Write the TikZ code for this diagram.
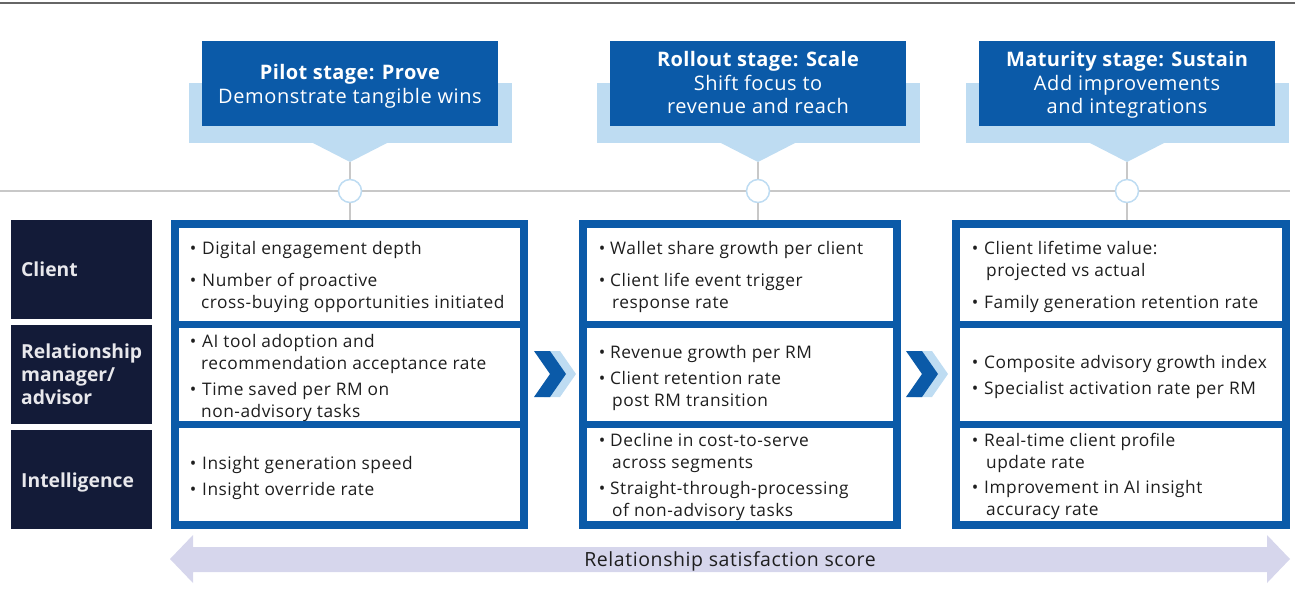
\documentclass[tikz,border=0pt]{standalone}
\usepackage{fontspec}
\setmainfont{Open Sans}
\definecolor{dblue}{HTML}{0B5AA8}
\definecolor{lblue}{HTML}{BEDCF2}
\definecolor{navy}{HTML}{131B38}
\definecolor{gline}{HTML}{C8C8C8}
\definecolor{topline}{HTML}{666666}
\definecolor{txtc}{HTML}{1E1E1E}
\definecolor{lav}{HTML}{D6D6EC}
\definecolor{lbl}{HTML}{E8E8EC}
\newcommand\bodyfont{\fontsize{17.3}{20}\selectfont\addfontfeature{LetterSpace=3}}
\tikzset{
  txt/.style={anchor=base west, inner sep=0pt, font=\bodyfont, text=txtc},
  bul/.style={anchor=base, inner sep=0pt, font=\bodyfont, text=txtc},
  hd/.style={anchor=base, inner sep=0pt, font=\fontsize{20}{24}\selectfont\addfontfeature{LetterSpace=3}, text=white},
  hdb/.style={hd, font=\fontsize{20}{24}\selectfont\bfseries\addfontfeature{LetterSpace=2}},
  lab/.style={anchor=base west, inner sep=0pt, font=\fontsize{19.3}{24}\selectfont\bfseries, text=lbl},
  circ/.style={circle, draw=lblue, line width=1.5pt, fill=white, minimum size=23pt, inner sep=0pt},
}
\newcommand\bl[5]{\node[bul] (#1b) at (#2,#4) {\textbullet}; \node[txt] (#1) at (#3,#4) {#5};}
\newcommand\cl[4]{\node[txt] (#1) at (#2,#3) {#4};}
\newcommand\stagehead[2]{%
  \fill[lblue] (#1-161.5,83) rectangle (#1+161.5,143);
  \fill[lblue] (#1-38,142.5) -- (#1+38,142.5) -- (#1,162) -- cycle;
  \fill[dblue] (#1-148,41) rectangle (#1+148,126);
  \coordinate (tip#2) at (#1,162);
  \coordinate (top#2) at (#1,220);
  \node[circ] (c#2) at (#1,191) {};
  \draw[gline, line width=1.5pt] (tip#2) -- (c#2);
  \draw[gline, line width=1.5pt] (c#2) -- (top#2);
}
\newcommand\chev[3]{%
  \fill[lblue] (#1-6,#2-23) -- (#1+10,#2-23) -- (#1+26,#2) -- (#1+10,#2+23) -- (#1-6,#2+23) -- (#1+10,#2) -- cycle;
  \fill[#3] (#1-16,#2-23) -- (#1,#2-23) -- (#1+16,#2) -- (#1,#2+23) -- (#1-16,#2+23) -- (#1,#2) -- cycle;
}
\newcommand\column[2]{%
  \fill[dblue] (#1,220) rectangle (#2,529);
  \fill[white] (#1+8,228) rectangle (#2-8,321);
  \fill[white] (#1+8,328) rectangle (#2-8,421);
  \fill[white] (#1+8,428) rectangle (#2-8,521);
}
\begin{document}
\begin{tikzpicture}[x=1pt,y=-1pt]
\useasboundingbox (0,0) rectangle (1295,595);
% top rule and timeline
\draw[topline, line width=2pt] (0,3) -- (1295,3);
\draw[gline, line width=1.5pt] (0,191) -- (1290,191);
% stage headers
\stagehead{350}{A}
\stagehead{758}{B}
\stagehead{1127}{C}
\node[hdb] (hA1) at (350,79) {Pilot stage: Prove};
\node[hd]  (hA2) at (350,103) {Demonstrate tangible wins};
\node[hdb] (hB1) at (758,66) {Rollout stage: Scale};
\node[hd]  (hB2) at (758,90) {Shift focus to};
\node[hd]  (hB3) at (758,113) {revenue and reach};
\node[hdb] (hC1) at (1127,66) {Maturity stage: Sustain};
\node[hd]  (hC2) at (1127,90) {Add improvements};
\node[hd]  (hC3) at (1127,113) {and integrations};
% row labels
\fill[navy] (11,220) rectangle (152,319);
\fill[navy] (11,325) rectangle (152,424);
\fill[navy] (11,430) rectangle (152,529);
\node[lab] (l1) at (21,276) {Client};
\node[lab] (l2a) at (21,358) {Relationship};
\node[lab] (l2b) at (21,381) {manager/};
\node[lab] (l2c) at (21,404) {advisor};
\node[lab] (l3) at (21,487) {Intelligence};
% columns
\column{171}{528}
\column{579}{901}
\column{952}{1290}
% chevrons
\chev{550}{374}{dblue}
\chev{922}{374}{dblue}
% column 1
\bl{a1}{193}{202}{254}{Digital engagement depth}
\bl{a2}{193}{202}{286}{Number of proactive}
\cl{a2c}{201}{308}{cross-buying opportunities initiated}
\bl{a3}{193}{202}{347}{AI tool adoption and}
\cl{a3c}{201}{369}{recommendation acceptance rate}
\bl{a4}{193}{202}{395}{Time saved per RM on}
\cl{a4c}{201}{417}{non-advisory tasks}
\bl{a5}{193}{202}{469}{Insight generation speed}
\bl{a6}{193}{202}{495}{Insight override rate}
% column 2
\bl{b1}{602}{610}{254}{Wallet share growth per client}
\bl{b2}{602}{610}{286}{Client life event trigger}
\cl{b2c}{612}{308}{response rate}
\bl{b3}{602}{610}{358}{Revenue growth per RM}
\bl{b4}{602}{610}{384}{Client retention rate}
\cl{b4c}{612}{406}{post RM transition}
\bl{b5}{602}{610}{446}{Decline in cost-to-serve}
\cl{b5c}{612}{468}{across segments}
\bl{b6}{602}{610}{494}{Straight-through-processing}
\cl{b6c}{612}{516}{of non-advisory tasks}
% column 3
\bl{c1}{975}{984}{254}{Client lifetime value:}
\cl{c1c}{986}{276}{projected vs actual}
\bl{c2}{975}{984}{308}{Family generation retention rate}
\bl{c3}{975}{984}{368}{Composite advisory growth index}
\bl{c4}{975}{984}{394}{Specialist activation rate per RM}
\bl{c5}{975}{984}{446}{Real-time client profile}
\cl{c5c}{986}{468}{update rate}
\bl{c6}{975}{984}{493}{Improvement in AI insight}
\cl{c6c}{986}{515}{accuracy rate}
% bottom double arrow
\fill[lav] (170,559) -- (193,535) -- (193,547) -- (1267,547) -- (1267,535) -- (1290,559) -- (1267,583) -- (1267,572) -- (193,572) -- (193,583) -- cycle;
\node[anchor=base, inner sep=0pt, font=\fontsize{19.5}{22}\selectfont\addfontfeature{LetterSpace=3}, text=txtc] (sat) at (730,566) {Relationship satisfaction score};
\end{tikzpicture}
\end{document}
